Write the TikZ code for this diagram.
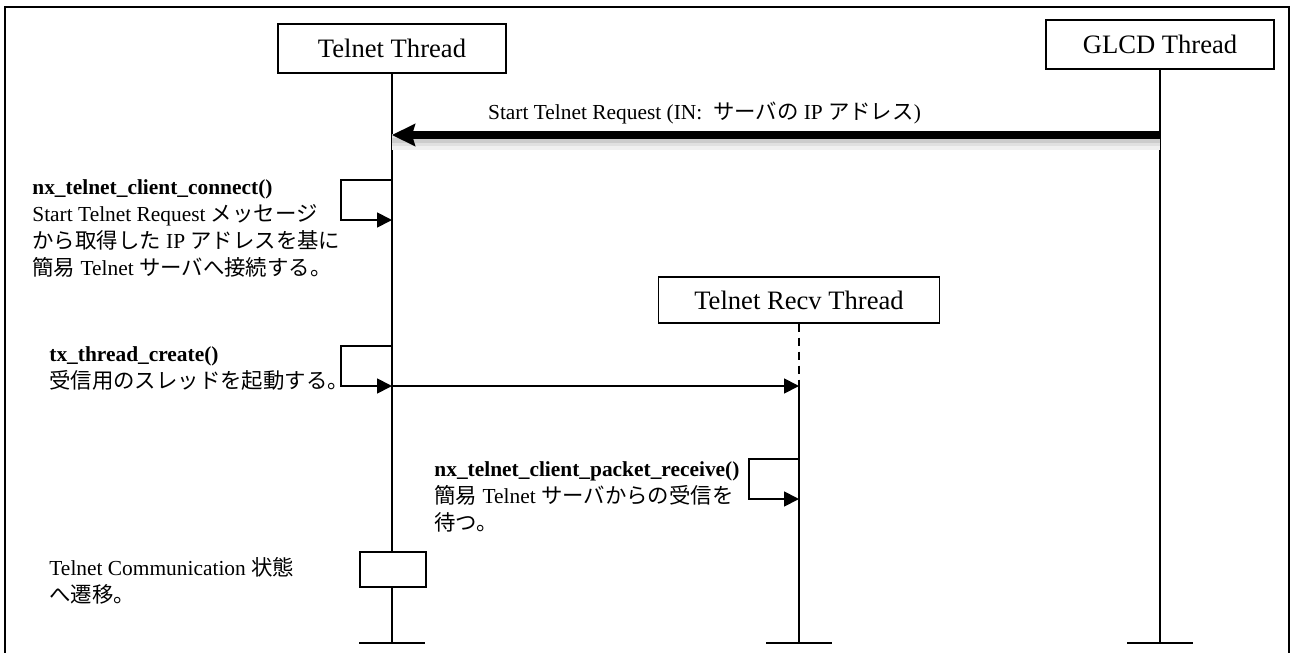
\documentclass[tikz,border=0pt]{standalone}
\usepackage{fontspec}
\setmainfont{Liberation Serif}
\newfontfamily\jafont{Noto Sans CJK JP}
\newcommand{\ja}[1]{{\jafont #1}}
\usetikzlibrary{arrows.meta}

\begin{document}
\begin{tikzpicture}[
  x=0.5pt,y=-0.5pt,
  font=\fontsize{10.7}{13.5}\selectfont,
  thread/.style={draw,line width=0.6pt,fill=white,minimum width=114pt,minimum height=24.5pt,inner sep=0pt,font=\fontsize{13.3}{16}\selectfont},
  life/.style={line width=0.9pt},
  lifedash/.style={line width=0.9pt,dash pattern=on 4pt off 3pt},
  msg/.style={line width=0.9pt,-{Triangle[length=7.5pt,width=7.5pt]}},
  bigmsg/.style={line width=3.8pt,-{Stealth[length=11.5pt,width=11pt,inset=1.5pt]},
    preaction={draw=black!6,line width=8pt,transform canvas={yshift=-3.5pt},-},
    preaction={draw=black!12,line width=5pt,transform canvas={yshift=-3pt},-},
    preaction={draw=black!20,line width=2.5pt,transform canvas={yshift=-2.5pt},-}},
  note/.style={anchor=north west,align=left,inner sep=0pt}
]
\useasboundingbox (0,0) rectangle (1292,653);
\draw[line width=0.8pt] (5,7) rectangle (1289,662);

% threads
\node[thread] (telnet) at (392,48.5) {Telnet Thread};
\node[thread] (glcd) at (1160,44.5) {GLCD Thread};
\node[thread,minimum width=140.5pt,minimum height=23pt] (recv) at (799,300) {Telnet Recv Thread};

\coordinate (telnetend) at (392,643);
\coordinate (recvend) at (799,643);
\coordinate (glcdend) at (1160,643);

% lifelines
\draw[life] (telnet.south) -- (telnetend);
\draw[life] (glcd.south) -- (glcdend);
\coordinate (recvstart) at (799,386);
\draw[lifedash] (recv.south) -- (recvstart);
\draw[life] (recvstart) -- (recvend);
\draw[life] (telnetend) ++(-33,0) -- ++(66,0);
\draw[life] (recvend) ++(-33,0) -- ++(66,0);
\draw[life] (glcdend) ++(-33,0) -- ++(66,0);

% start request
\coordinate (startin) at (392,135);
\coordinate (startout) at (1160,135);
\draw[bigmsg] (startout) -- (startin);
\node (startlbl) at (704.5,113) {Start Telnet Request (IN:\ \ \ja{サーバの} IP \ja{アドレス})};

% connect
\coordinate (conn1) at (392,180);
\coordinate (conn2) at (392,220);
\draw[msg] (conn1) -- ++(-51,0) |- (conn2);
\node[note] (connnote) at (32,179) {\textbf{nx\_telnet\_client\_connect()}\\
  Start Telnet Request \ja{メッセージ}\\
  \ja{から取得した} IP \ja{アドレスを基に}\\
  \ja{簡易} Telnet \ja{サーバへ接続する。}};

% create thread
\coordinate (cre1) at (392,346);
\coordinate (cre2) at (392,386);
\draw[msg] (cre1) -- ++(-51,0) |- (cre2);
\draw[msg] (cre2) -- (recvstart);
\node[note] (crenote) at (49,346) {\textbf{tx\_thread\_create()}\\
  \ja{受信用のスレッドを起動する。}};

% receive
\coordinate (rcv1) at (799,459);
\coordinate (rcv2) at (799,499);
\draw[msg] (rcv1) -- ++(-50,0) |- (rcv2);
\node[note] (rcvnote) at (434,461) {\textbf{nx\_telnet\_client\_packet\_receive()}\\
  \ja{簡易} Telnet \ja{サーバからの受信を}\\
  \ja{待つ。}};

% state change
\node[draw,line width=0.9pt,fill=white,minimum width=33pt,minimum height=17.5pt,inner sep=0pt] (comm) at (393,569.5) {};
\node[note] (commnote) at (49,557) {Telnet Communication \ja{状態}\\
  \ja{へ遷移。}};
\end{tikzpicture}
\end{document}
